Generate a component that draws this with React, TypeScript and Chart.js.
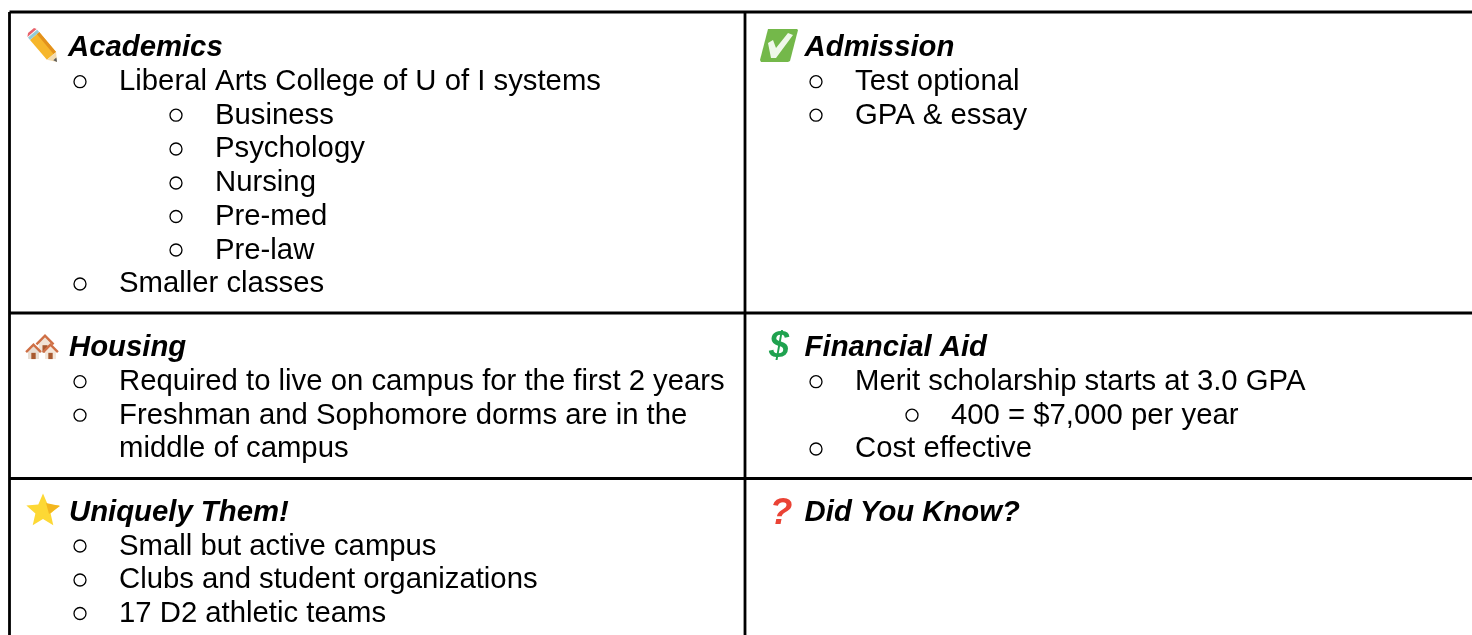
import React, { useEffect, useRef } from "react";
import { Chart, registerables } from "chart.js";

Chart.register(...registerables);

const WIDTH = 1472;
const HEIGHT = 635;

// Table rules
const ruleColumns = [9.5, 745];
const ruleRows = [12, 313, 478.5];

// Cell headings
const headingTexts = ["Academics", "Admission", "Housing", "Financial Aid", "Uniquely Them!", "Did You Know?"];
const headingX = [68, 804.6, 69, 804.6, 69, 804.6];
const headingY = [56, 56, 356, 356, 521, 521];
const headingIcons = ["pencil", "check", "houses", "dollar", "star", "question"];
const iconX = [42, 779, 42, 779, 43, 781];
const iconY = [45, 45, 345, 345, 510, 510];

// List lines
const itemTexts = [
  "Liberal Arts College of U of I systems",
  "Business",
  "Psychology",
  "Nursing",
  "Pre-med",
  "Pre-law",
  "Smaller classes",
  "Test optional",
  "GPA & essay",
  "Required to live on campus for the first 2 years",
  "Freshman and Sophomore dorms are in the",
  "middle of campus",
  "Merit scholarship starts at 3.0 GPA",
  "400 = $7,000 per year",
  "Cost effective",
  "Small but active campus",
  "Clubs and student organizations",
  "17 D2 athletic teams",
];
const itemX = [119, 215, 215, 215, 215, 215, 119, 855, 855, 119, 119, 119, 855, 951, 855, 119, 119, 119];
const itemY = [90, 123.5, 157, 191, 225, 258.5, 292, 90, 123.5, 390, 423.5, 457, 390, 423.5, 457, 554.5, 588, 622];
const bulletX = [80, 176, 176, 176, 176, 176, 80, 816, 816, 80, 80, 816, 912, 816, 80, 80, 80];
const bulletY = [81.7, 115.2, 149, 183, 216.5, 250, 284, 81.7, 115.2, 381.7, 415.2, 381.7, 415.2, 449, 546, 580, 613.5];

const BODY_FONT = '29.3px "Liberation Sans", Arial, sans-serif';
const HEAD_FONT = 'italic bold 29.3px "Liberation Sans", Arial, sans-serif';

type Ctx = CanvasRenderingContext2D;

function poly(ctx: Ctx, pts: number[][], fill: string) {
  ctx.fillStyle = fill;
  ctx.beginPath();
  pts.forEach(([x, y], i) => (i ? ctx.lineTo(x, y) : ctx.moveTo(x, y)));
  ctx.closePath();
  ctx.fill();
}

function drawHouse(ctx: Ctx, x: number, y: number, s: number, wall: string) {
  poly(ctx, [[x - 7 * s, y + 11 * s], [x - 7 * s, y], [x, y - 7 * s], [x + 7 * s, y], [x + 7 * s, y + 11 * s]], wall);
  ctx.strokeStyle = "#cf6f45";
  ctx.lineWidth = 2.4;
  ctx.beginPath();
  ctx.moveTo(x - 9.5 * s, y + 2 * s);
  ctx.lineTo(x, y - 7.5 * s);
  ctx.lineTo(x + 9.5 * s, y + 2 * s);
  ctx.stroke();
  poly(ctx, [[x - 2.8 * s, y + 11 * s], [x - 2.8 * s, y + 3 * s], [x + 2.8 * s, y + 3 * s], [x + 2.8 * s, y + 11 * s]], "#a85a30");
}

const icons: Record<string, (ctx: Ctx) => void> = {
  pencil(ctx) {
    poly(ctx, [[-12, -5.1], [-2.8, -12.9], [14.1, 6.9], [4.9, 14.7]], "#f6b62b");
    poly(ctx, [[-5.2, -10.9], [-2.8, -12.9], [14.1, 6.9], [11.5, 9]], "#e3911c");
    poly(ctx, [[-14, -7.4], [-4.8, -15.2], [-2.8, -12.9], [-12, -5.1]], "#93cbd8");
    poly(ctx, [[-14.6, -8.1], [-5.4, -15.9], [-8, -17], [-14, -12]], "#e8626b");
    poly(ctx, [[4.9, 14.7], [14.1, 6.9], [15, 17]], "#f3dcb0");
    poly(ctx, [[11.3, 15.2], [14.4, 12.6], [15, 17]], "#5a5a5a");
  },
  check(ctx) {
    poly(ctx, [[-11, -16], [18, -16], [19, -15], [11, 16], [9, 17], [-18, 17], [-19, 15]], "#74b84a");
    poly(ctx, [[-11, -2], [-6, -5], [-3, 3], [9, -12], [14, -10], [-3, 13], [-8, 13]], "#f0f8ea");
  },
  houses(ctx) {
    drawHouse(ctx, 3, -2.5, 0.9, "#f1e4d7");
    drawHouse(ctx, -8.5, 5.5, 0.78, "#e9ded4");
    drawHouse(ctx, 8.5, 5.5, 0.78, "#f3e6d9");
  },
  dollar(ctx) {
    ctx.fillStyle = "#1fa24f";
    ctx.font = 'italic bold 36px "Liberation Sans", sans-serif';
    ctx.textAlign = "center";
    ctx.textBaseline = "middle";
    ctx.fillText("$", 0, 2);
  },
  star(ctx) {
    const pts: number[][] = [];
    for (let i = 0; i < 10; i++) {
      const r = i % 2 ? 8 : 17.5;
      const a = -Math.PI / 2 + (i * Math.PI) / 5;
      pts.push([Math.cos(a) * r, Math.sin(a) * r + 1]);
    }
    poly(ctx, pts, "#fdd835");
    poly(ctx, [[3, -7], [17, -4], [6, 4]], "#f3b61f");
  },
  question(ctx) {
    ctx.fillStyle = "#ea4335";
    ctx.font = 'italic bold 37px "Liberation Sans", sans-serif';
    ctx.textAlign = "center";
    ctx.textBaseline = "middle";
    ctx.fillText("?", 0, 4);
  },
};

const sheetPlugin = {
  id: "sheet",
  beforeDraw(chart: any) {
    const ctx: Ctx = chart.ctx;
    ctx.save();
    ctx.fillStyle = "#ffffff";
    ctx.fillRect(0, 0, chart.width, chart.height);
    ctx.restore();
  },
  afterDatasetsDraw(chart: any) {
    const ctx: Ctx = chart.ctx;
    const { x, y } = chart.scales;
    ctx.save();
    ctx.fillStyle = "#000000";
    ctx.textAlign = "left";
    ctx.textBaseline = "alphabetic";
    ctx.font = HEAD_FONT;
    headingTexts.forEach((t, i) => ctx.fillText(t, x.getPixelForValue(headingX[i]), y.getPixelForValue(headingY[i])));
    ctx.font = BODY_FONT;
    itemTexts.forEach((t, i) => ctx.fillText(t, x.getPixelForValue(itemX[i]), y.getPixelForValue(itemY[i])));
    headingIcons.forEach((name, i) => {
      ctx.save();
      ctx.translate(x.getPixelForValue(iconX[i]), y.getPixelForValue(iconY[i]));
      icons[name](ctx);
      ctx.restore();
    });
    ctx.restore();
  },
};

export default function App() {
  const ref = useRef<HTMLCanvasElement>(null);
  useEffect(() => {
    document.body.style.margin = "0";
    const rule = (data: { x: number; y: number }[]) => ({
      type: "line" as const,
      data,
      showLine: true,
      borderColor: "#000000",
      borderWidth: 2.8,
      pointRadius: 0,
    });
    const chart = new Chart(ref.current!, {
      type: "scatter",
      data: {
        datasets: [
          ...ruleColumns.map((c) => rule([{ x: c, y: ruleRows[0] }, { x: c, y: HEIGHT }])),
          ...ruleRows.map((r) => rule([{ x: ruleColumns[0], y: r }, { x: WIDTH, y: r }])),
          {
            data: bulletX.map((x, i) => ({ x, y: bulletY[i] })),
            pointStyle: "circle",
            pointRadius: 6,
            pointBorderWidth: 1.3,
            pointBorderColor: "#000000",
            pointBackgroundColor: "#ffffff",
          },
        ],
      } as any,
      options: {
        animation: false,
        responsive: false,
        events: [],
        layout: { padding: 0, autoPadding: false },
        plugins: { legend: { display: false }, tooltip: { enabled: false }, title: { display: false } },
        scales: {
          x: { type: "linear", display: false, min: 0, max: WIDTH },
          y: { type: "linear", display: false, min: 0, max: HEIGHT, reverse: true },
        },
      },
      plugins: [sheetPlugin],
    });
    return () => chart.destroy();
  }, []);
  return <canvas ref={ref} width={WIDTH} height={HEIGHT} style={{ display: "block" }} />;
}
